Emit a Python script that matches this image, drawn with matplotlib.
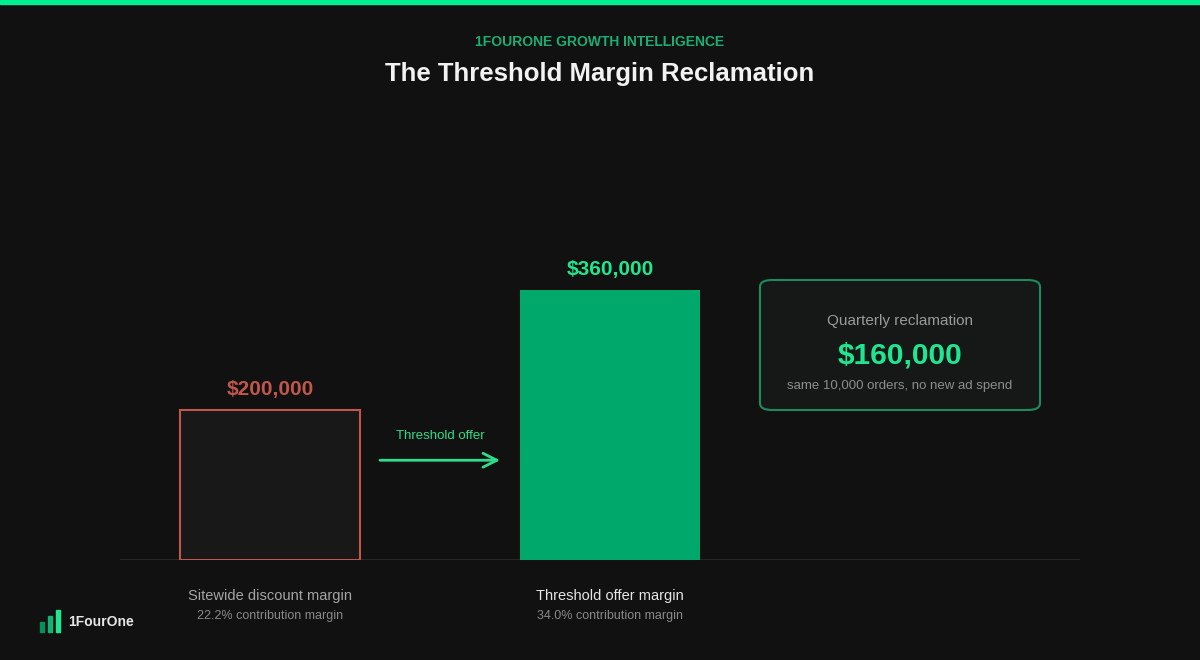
import matplotlib.pyplot as plt
from matplotlib.patches import FancyBboxPatch, Rectangle

# data
categories = ['Sitewide discount margin', 'Threshold offer margin']
margins = [200000, 360000]
value_labels = ['$200,000', '$360,000']
sub_labels = ['22.2% contribution margin', '34.0% contribution margin']
reclaimed = margins[1] - margins[0]

BG = '#111111'
GREEN = '#00a86b'
BRIGHT = '#1de890'
RED = '#c0564c'

plt.rcParams['font.family'] = ['Liberation Sans', 'DejaVu Sans']

W, H = 1200, 660
fig = plt.figure(figsize=(12, 6.6), dpi=100, facecolor=BG)


def fx(px):
    return px / W


def fy(py):
    return 1 - py / H


# top accent stripe
fig.patches.append(Rectangle((0, fy(4)), 1, 4 / H, transform=fig.transFigure,
                             color='#00f090', zorder=5))

fig.text(0.5, fy(42), '1FOURONE GROWTH INTELLIGENCE', ha='center', va='center',
         color='#1aae73', fontsize=10, fontweight='bold')
fig.text(0.5, fy(74), 'The Threshold Margin Reclamation', ha='center', va='center',
         color='#f2f2f2', fontsize=18.5, fontweight='bold')

# main axes: x 120..1080 px, baseline at y=560
ax = fig.add_axes([fx(120), fy(560), fx(960), 450 / H])
ax.set_facecolor('none')
ax.set_ylim(0, 600000)
unit = 340.0
left = -150 / unit
ax.set_xlim(left, left + 960 / unit)
width = 180 / unit
x = [0, 1]

ax.bar(x[0], margins[0], width, color='#181818', edgecolor=RED, linewidth=1.5, zorder=3)
ax.bar(x[1], margins[1], width, color=GREEN, edgecolor='none', zorder=3)

ax.axhline(0, color='#2a2a2a', linewidth=2, zorder=2)
for s in ax.spines.values():
    s.set_visible(False)
ax.set_xticks([])
ax.set_yticks([])

ax.text(x[0], margins[0] + 27500, value_labels[0], ha='center', va='center',
        color=RED, fontsize=15, fontweight='bold')
ax.text(x[1], margins[1] + 27500, value_labels[1], ha='center', va='center',
        color=BRIGHT, fontsize=15, fontweight='bold')

# arrow between bars
ax.annotate('', xy=(0.5 + 60 / unit, 133000), xytext=(0.5 - 60 / unit, 133000),
            arrowprops=dict(arrowstyle='->', color='#2fdc8a', lw=2,
                            mutation_scale=25, shrinkA=0, shrinkB=0))
ax.text(0.5, 165000, 'Threshold offer', ha='center', va='center',
        color='#2fdc8a', fontsize=9.5)

# category labels under bars
label_colors = ['#a5a5a5', '#e6e6e6']
for i in range(2):
    ax.text(x[i], -47500, categories[i], ha='center', va='center',
            color=label_colors[i], fontsize=10.5)
    ax.text(x[i], -74000, sub_labels[i], ha='center', va='center',
            color='#8a8a8a', fontsize=9)

# callout box
box = FancyBboxPatch((fx(760), fy(410)), fx(280), 130 / H,
                     boxstyle='round,pad=0,rounding_size=0.01',
                     transform=fig.transFigure, facecolor='#161818',
                     edgecolor='#1f8a5e', linewidth=1.5, zorder=4)
fig.patches.append(box)
fig.text(fx(900), fy(321), 'Quarterly reclamation', ha='center', va='center',
         color='#9a9a9a', fontsize=11, zorder=6)
fig.text(fx(900), fy(356), '${:,.0f}'.format(reclaimed), ha='center', va='center',
         color=BRIGHT, fontsize=21.5, fontweight='bold', zorder=6)
fig.text(fx(900), fy(386), 'same 10,000 orders, no new ad spend', ha='center',
         va='center', color='#8d8d8d', fontsize=9.5, zorder=6)

# logo
logo_heights = [10, 16, 22]
logo_colors = ['#0a8f5c', '#12b374', '#1de890']
for i, h in enumerate(logo_heights):
    fig.patches.append(Rectangle((fx(40 + i * 8), fy(632)), fx(4), h / H,
                                 transform=fig.transFigure, color=logo_colors[i]))
fig.text(fx(68), fy(622), '1FourOne', ha='left', va='center',
         color='#e6e6e6', fontsize=10, fontweight='bold')

fig.savefig('out.png', dpi=100, facecolor=BG)
